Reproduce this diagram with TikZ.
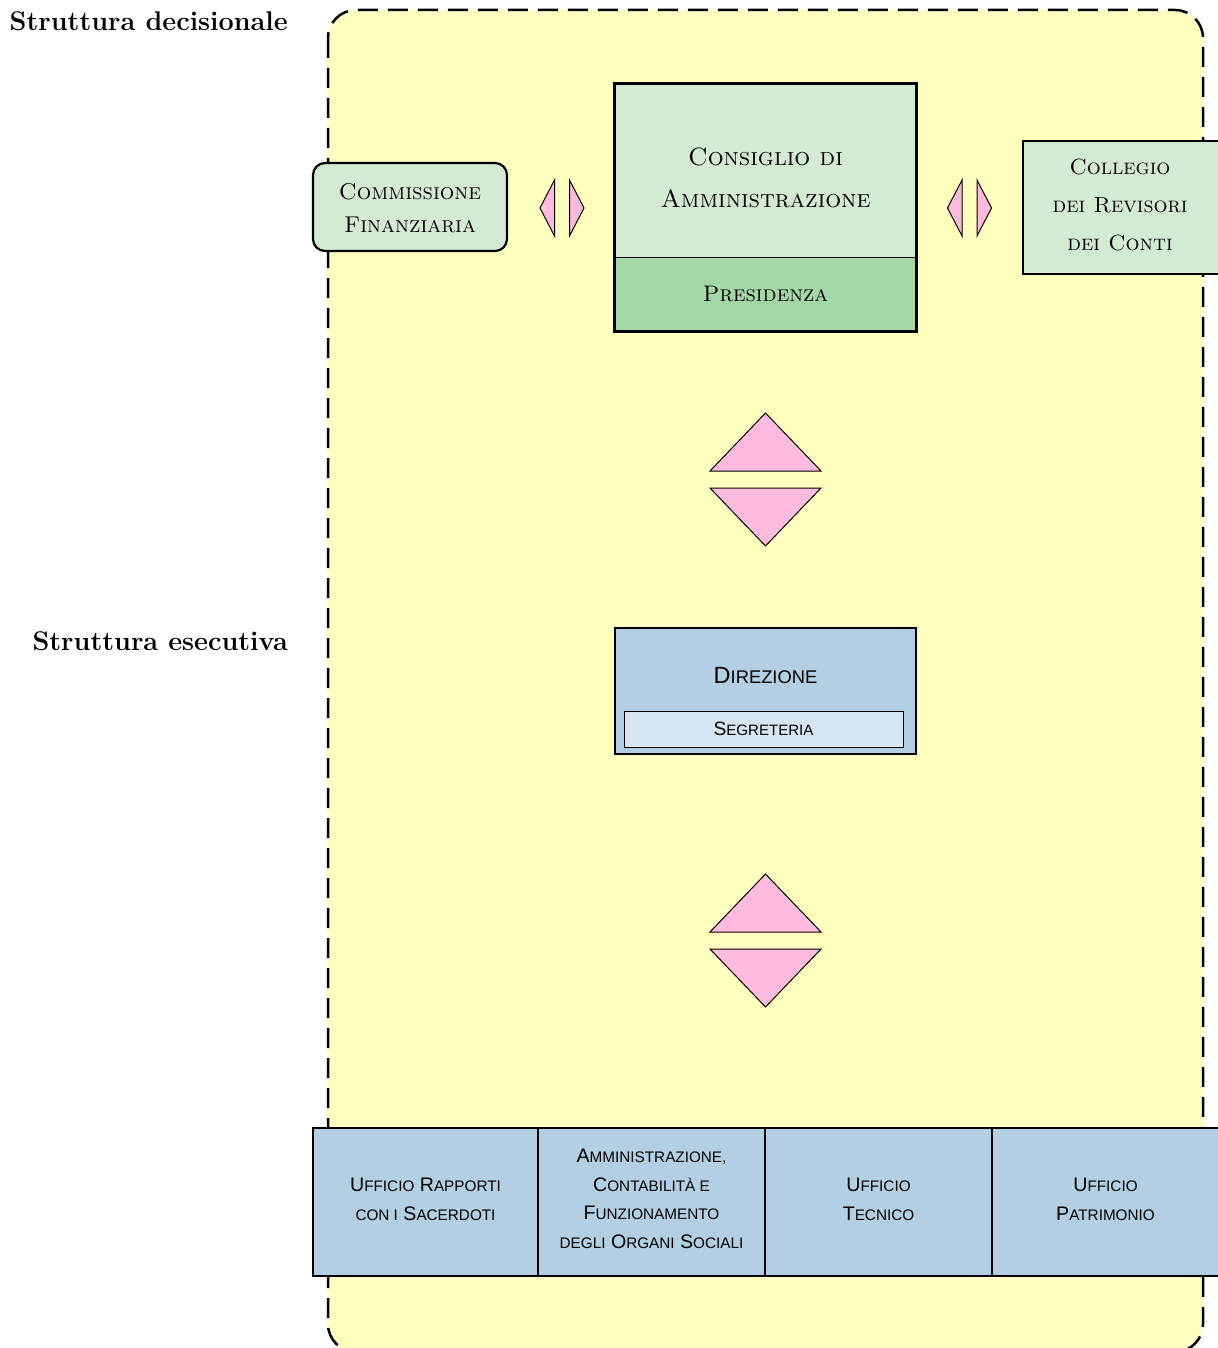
\documentclass[tikz,border=0pt]{standalone}
\usepackage{fontspec}
\usepackage{graphicx}
\newfontfamily\sansf{Liberation Sans}
\newcommand\fsc[2]{#1\scalebox{0.78}{#2}}
\newcommand\lsc[1]{\scalebox{0.78}{#1}}
\definecolor{cyellow}{HTML}{FFFFC0}
\definecolor{cgreen}{HTML}{D2EBD2}
\definecolor{cdgreen}{HTML}{A3D7A6}
\definecolor{cblue}{HTML}{B3CFE3}
\definecolor{clblue}{HTML}{D6E6F2}
\definecolor{cpink}{HTML}{FFBBDD}
\begin{document}
\begin{tikzpicture}[x=1pt,y=-1pt,
  box/.style={draw=black, line width=2.2pt, inner sep=0pt, align=center},
  gbox/.style={box, fill=cgreen},
  bbox/.style={box, fill=cblue},
  txt/.style={inner sep=0pt, align=center},
  tri/.style={draw=black, fill=cpink, line width=1pt, line join=miter},
  title/.style={font=\fontsize{27}{32}\selectfont\bfseries, anchor=base east, inner sep=0pt},
  serif/.style n args={2}{font=\fontsize{#1}{#2}\selectfont},
  sanst/.style n args={2}{font=\sansf\fontsize{#1}{#2}\selectfont}]
\useasboundingbox (0,0) rectangle (1217,1348);
\fill[white] (0,0) rectangle (1217,1348);
\draw[line width=2.5pt, dash pattern=on 20pt off 10pt, fill=cyellow, rounded corners=28pt] (328,10) rectangle (1203,1352);

\node[title] (tdec) at (288,31) {Struttura decisionale};
\node[title] (tese) at (288,650) {Struttura esecutiva};

% decisional
\node[gbox, rounded corners=12pt, minimum width=194pt, minimum height=88pt] (comm) at (410,207) {};
\node[txt, serif={22.8}{33}] (commt) at (410,208) {\textsc{Commissione}\\\textsc{Finanziaria}};
\node[gbox, line width=0.8pt, minimum width=301pt, minimum height=173pt] (cda) at (765.5,170.5) {};
\node[txt, serif={25}{42}] (cdat) at (765.5,178) {\textsc{Consiglio di}\\\textsc{Amministrazione}};
\node[box, fill=cdgreen, line width=0.8pt, minimum width=301pt, minimum height=74pt, serif={22.5}{30}] (pres) at (765.5,294) {\textsc{Presidenza}};
\draw[line width=2.5pt] (cda.north west) rectangle (pres.south east);
\node[gbox, minimum width=196pt, minimum height=133pt] (coll) at (1121,207.5) {};
\node[txt, serif={22}{38}] (collt) at (1120,204.5) {\textsc{Collegio}\\\textsc{dei Revisori}\\\textsc{dei Conti}};

% small double arrows
\coordinate (la) at (562,208);
\coordinate (ra) at (969.5,208);
\foreach \c in {la,ra}{
  \draw[tri] ([xshift=-7.5pt,yshift=-28pt]\c) -- ([xshift=-22pt]\c) -- ([xshift=-7.5pt,yshift=28pt]\c) -- cycle;
  \draw[tri] ([xshift=7.5pt,yshift=-28pt]\c) -- ([xshift=22pt]\c) -- ([xshift=7.5pt,yshift=28pt]\c) -- cycle;
}

% big double arrows
\coordinate (ba1) at (765.5,479.5);
\coordinate (ba2) at (765.5,940.5);
\foreach \c in {ba1,ba2}{
  \draw[tri] ([xshift=-55.5pt,yshift=-8.5pt]\c) -- ([yshift=-66.5pt]\c) -- ([xshift=55.5pt,yshift=-8.5pt]\c) -- cycle;
  \draw[tri] ([xshift=-55.5pt,yshift=8.5pt]\c) -- ([yshift=66.5pt]\c) -- ([xshift=55.5pt,yshift=8.5pt]\c) -- cycle;
}

% executive
\node[bbox, minimum width=301pt, minimum height=126pt] (dir) at (765.5,691) {};
\node[txt, sanst={23.5}{28}] (dirt) at (765.5,675) {\fsc{D}{IREZIONE}};
\node[box, fill=clblue, line width=1pt, minimum width=279pt, minimum height=36pt, sanst={19.3}{24}] (seg) at (763.5,729) {\fsc{S}{EGRETERIA}};

\node[bbox, minimum width=225pt, minimum height=148pt] (u1) at (425.5,1202) {};
\node[bbox, minimum width=227pt, minimum height=148pt] (u2) at (651.5,1202) {};
\node[bbox, minimum width=227pt, minimum height=148pt] (u3) at (878.5,1202) {};
\node[bbox, minimum width=227pt, minimum height=148pt] (u4) at (1105.5,1202) {};
\node[txt, sanst={19.6}{29}] (u1t) at (425.5,1199) {\fsc{U}{FFICIO} \fsc{R}{APPORTI}\\\lsc{CON I} \fsc{S}{ACERDOTI}};
\node[txt, sanst={19.6}{28.5}] (u2t) at (651.5,1199) {\fsc{A}{MMINISTRAZIONE,}\\\fsc{C}{ONTABILITÀ E}\\\fsc{F}{UNZIONAMENTO}\\\lsc{DEGLI} \fsc{O}{RGANI} \fsc{S}{OCIALI}};
\node[txt, sanst={19.6}{29}] (u3t) at (878.5,1199) {\fsc{U}{FFICIO}\\\fsc{T}{ECNICO}};
\node[txt, sanst={19.6}{29}] (u4t) at (1105.5,1199) {\fsc{U}{FFICIO}\\\fsc{P}{ATRIMONIO}};
\end{tikzpicture}
\end{document}
